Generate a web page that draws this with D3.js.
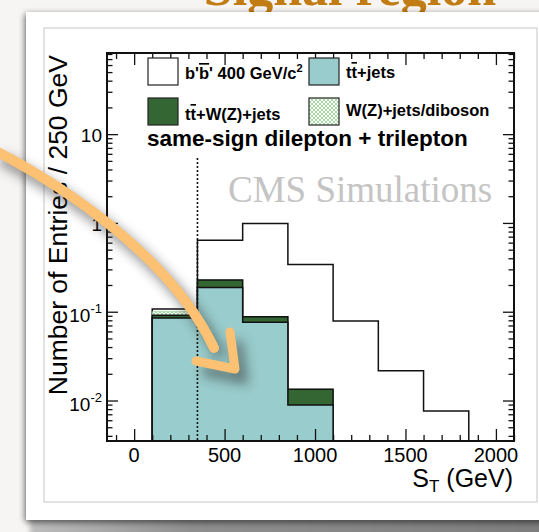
<!DOCTYPE html>
<html>
<head>
<meta charset="utf-8">
<script src="https://cdn.jsdelivr.net/npm/d3@7/dist/d3.min.js"></script>
<style>
  html, body { margin: 0; padding: 0; background: #f7f5f3; }
  svg { display: block; }
  text { font-family: "Liberation Sans", Arial, Helvetica, sans-serif; }
</style>
</head>
<body>
<svg id="chart" width="539" height="532"></svg>
<script>
// S_T distribution, 250 GeV bins, stacked backgrounds with the b'b' signal on top
const binEdges = [100, 350, 600, 850, 1100, 1350, 1600, 1850];
const ttJets   = [0.085, 0.187, 0.076, 0.0089, 0, 0, 0];
const ttVJets  = [0.006, 0.041, 0.012, 0.0045, 0, 0, 0];
const vJetsVV  = [0.009, 0.0005, 0, 0, 0, 0, 0];
const signal   = [0.007, 0.41, 0.90, 0.327, 0.0787, 0.0216, 0.0076];
const xTickLabels = ["0", "500", "1000", "1500", "2000"];
const yTickLabels = [
  { v: 0.01, base: "10", exp: "-2" },
  { v: 0.1,  base: "10", exp: "-1" },
  { v: 1,    base: "1",  exp: null },
  { v: 10,   base: "10", exp: null }
];
const cutValue = 350;

const svg = d3.select("#chart");
const defs = svg.append("defs");

// ---------- slide card ----------
const cardShadow = defs.append("filter").attr("id", "cardShadow")
  .attr("x", "-10%").attr("y", "-10%").attr("width", "120%").attr("height", "120%");
cardShadow.append("feGaussianBlur").attr("in", "SourceAlpha").attr("stdDeviation", 3);
cardShadow.append("feOffset").attr("dx", -1).attr("dy", 2).attr("result", "off");
cardShadow.append("feComponentTransfer").append("feFuncA").attr("type", "linear").attr("slope", 0.6);
const cm = cardShadow.append("feMerge");
cm.append("feMergeNode");
cm.append("feMergeNode").attr("in", "SourceGraphic");

const softBlur = defs.append("filter").attr("id", "softBlur")
  .attr("x", "-10%").attr("y", "-100%").attr("width", "120%").attr("height", "300%");
softBlur.append("feGaussianBlur").attr("stdDeviation", 2.5);

const bottomShade = defs.append("linearGradient").attr("id", "bottomShade")
  .attr("x1", 0).attr("x2", 1).attr("y1", 0).attr("y2", 0);
bottomShade.append("stop").attr("offset", "0%").attr("stop-color", "#bdbdbd");
bottomShade.append("stop").attr("offset", "30%").attr("stop-color", "#8e8e8e");
bottomShade.append("stop").attr("offset", "100%").attr("stop-color", "#7c7c7c");

// title partly above the card
svg.append("text")
  .attr("x", 350).attr("y", 5)
  .attr("text-anchor", "middle")
  .style("font-family", "'Liberation Serif', 'DejaVu Serif', serif")
  .style("font-weight", "bold")
  .style("font-size", "52px")
  .attr("fill", "#c27c14")
  .text("Signal region");

// page-curl shadow under the card
svg.append("rect")
  .attr("x", 30).attr("y", 517).attr("width", 540).attr("height", 22)
  .attr("fill", "url(#bottomShade)")
  .attr("filter", "url(#softBlur)");

svg.append("rect")
  .attr("x", 26).attr("y", 12).attr("width", 540).attr("height", 508)
  .attr("fill", "#ffffff")
  .attr("filter", "url(#cardShadow)");

svg.append("rect")
  .attr("x", 44).attr("y", 28).attr("width", 493).attr("height", 474)
  .attr("fill", "#ffffff")
  .attr("stroke", "#cfcfcf").attr("stroke-width", 1.2);

// ---------- plot frame ----------
const frame = { left: 107, right: 514, top: 53, bottom: 441 };
const x = d3.scaleLinear().domain([-150, 2100]).range([frame.left, frame.right]);
const yMin = 0.0035, yMax = 82;
const y = d3.scaleLog().domain([yMin, yMax]).range([frame.bottom, frame.top]);

defs.append("clipPath").attr("id", "plotClip").append("rect")
  .attr("x", frame.left).attr("y", frame.top)
  .attr("width", frame.right - frame.left).attr("height", frame.bottom - frame.top);

// cross-hatch for W(Z)+jets/diboson
const hatch = defs.append("pattern").attr("id", "hatch")
  .attr("patternUnits", "userSpaceOnUse").attr("width", 4).attr("height", 4);
hatch.append("rect").attr("width", 4).attr("height", 4).attr("fill", "#ffffff");
hatch.append("path").attr("d", "M0,0 L4,4 M4,0 L0,4")
  .attr("stroke", "#8fcf8f").attr("stroke-width", 0.8);

const colors = {
  tt: "#99cccc",
  ttV: "#336633",
  vv: "url(#hatch)",
  sig: "#ffffff"
};

// stacked table
const table = binEdges.slice(0, -1).map((e, i) => ({
  x0: e, x1: binEdges[i + 1],
  tt: ttJets[i], ttV: ttVJets[i], vv: vJetsVV[i], sig: signal[i]
}));
const keys = ["tt", "ttV", "vv", "sig"];
const series = d3.stack().keys(keys)(table);

const clampY = v => y(Math.max(v, yMin));
const stepArea = d3.area()
  .curve(d3.curveStepAfter)
  .x(d => x(d.edge))
  .y0(frame.bottom + 2)
  .y1(d => clampY(d.top));

const plot = svg.append("g").attr("clip-path", "url(#plotClip)");

// draw from the cumulative top layer down so lower layers sit in front
series.slice().reverse().forEach(s => {
  const pts = s.map(d => ({ edge: d.data.x0, top: d[1] }));
  pts.push({ edge: s[s.length - 1].data.x1, top: s[s.length - 1][1] });
  plot.append("path")
    .datum(pts)
    .attr("d", stepArea)
    .attr("fill", colors[s.key])
    .attr("stroke", s.key === "vv" ? "#8fcf8f" : "#111")
    .attr("stroke-width", s.key === "vv" ? 0.8 : 1.5)
    .attr("stroke-linejoin", "miter");
});

// selection cut
plot.append("line")
  .attr("x1", x(cutValue)).attr("x2", x(cutValue))
  .attr("y1", 158).attr("y2", frame.bottom)
  .attr("stroke", "#111").attr("stroke-width", 1.6)
  .attr("stroke-dasharray", "2,2");

// ---------- axes ----------
const xMajor = [0, 500, 1000, 1500, 2000];
const xMinor = d3.range(-100, 2101, 100).filter(v => v % 500 !== 0);
const decades = [-3, -2, -1, 0, 1];
const yAll = [];
decades.forEach(d => { for (let k = 1; k <= 9; k++) { const v = k * Math.pow(10, d); if (v >= yMin && v <= yMax) yAll.push(v); } });
const yMajor = yAll.filter(v => Math.abs(Math.log10(v) - Math.round(Math.log10(v))) < 1e-9);
const yMinor = yAll.filter(v => !yMajor.includes(v));

function tickAxis(axis, transform) {
  const g = svg.append("g").attr("transform", transform).call(axis);
  g.select(".domain").remove();
  g.selectAll("text").remove();
  g.selectAll("line").attr("stroke", "#111").attr("stroke-width", 1.3);
  return g;
}
tickAxis(d3.axisBottom(x).tickValues(xMajor).tickSize(-12), `translate(0,${frame.bottom})`);
tickAxis(d3.axisBottom(x).tickValues(xMinor).tickSize(-6), `translate(0,${frame.bottom})`);
tickAxis(d3.axisTop(x).tickValues(xMajor).tickSize(-12), `translate(0,${frame.top})`);
tickAxis(d3.axisTop(x).tickValues(xMinor).tickSize(-6), `translate(0,${frame.top})`);
tickAxis(d3.axisLeft(y).tickValues(yMajor).tickSize(-11), `translate(${frame.left},0)`);
tickAxis(d3.axisLeft(y).tickValues(yMinor).tickSize(-5.5), `translate(${frame.left},0)`);
tickAxis(d3.axisRight(y).tickValues(yMajor).tickSize(-11), `translate(${frame.right},0)`);
tickAxis(d3.axisRight(y).tickValues(yMinor).tickSize(-5.5), `translate(${frame.right},0)`);

svg.append("rect")
  .attr("x", frame.left).attr("y", frame.top)
  .attr("width", frame.right - frame.left).attr("height", frame.bottom - frame.top)
  .attr("fill", "none").attr("stroke", "#111").attr("stroke-width", 2);

// x tick labels
svg.append("g").selectAll("text").data(xMajor).join("text")
  .attr("x", d => x(d)).attr("y", 462)
  .attr("text-anchor", "middle")
  .style("font-size", "20px")
  .text((d, i) => xTickLabels[i]);

// y tick labels
const yl = svg.append("g").selectAll("text").data(yTickLabels).join("text")
  .attr("x", 102)
  .attr("y", d => y(d.v) + (d.exp ? 10 : 8))
  .attr("text-anchor", "end")
  .style("font-size", "19px");
yl.append("tspan").text(d => d.base);
yl.filter(d => d.exp).append("tspan")
  .attr("dy", -9).style("font-size", "13px").text(d => d.exp);

// axis titles
const xt = svg.append("text")
  .attr("x", 513).attr("y", 487)
  .attr("text-anchor", "end")
  .style("font-size", "25px");
xt.append("tspan").text("S");
xt.append("tspan").attr("dy", 5).style("font-size", "17px").text("T");
xt.append("tspan").attr("dy", -5).text(" (GeV)");

svg.append("text")
  .attr("transform", "translate(67,55) rotate(-90)")
  .attr("text-anchor", "end")
  .style("font-size", "26.5px")
  .text("Number of Entries / 250 GeV");

// ---------- legend ----------
const legend = [
  { label: "sig", fill: "#ffffff", bx: 148, by: 58 },
  { label: "tt",  fill: "#99cccc", bx: 309, by: 58 },
  { label: "ttV", fill: "#336633", bx: 148, by: 98 },
  { label: "vv",  fill: "url(#hatch)", bx: 309, by: 98 }
];
const lg = svg.append("g");
lg.selectAll("rect").data(legend).join("rect")
  .attr("x", d => d.bx).attr("y", d => d.by)
  .attr("width", 30).attr("height", 27)
  .attr("fill", d => d.fill)
  .attr("stroke", "#222").attr("stroke-width", 1.2);

function legendText(xp, yp) {
  return lg.append("text").attr("x", xp).attr("y", yp)
    .style("font-size", "16.5px").style("font-weight", "bold");
}
const t1 = legendText(185, 79);
t1.append("tspan").text("b'");
t1.append("tspan").style("text-decoration", "overline").text("b");
t1.append("tspan").text("' 400 GeV/c");
t1.append("tspan").attr("dy", -7).style("font-size", "11px").text("2");

const t2 = legendText(346, 78);
t2.append("tspan").text("t");
t2.append("tspan").style("text-decoration", "overline").text("t");
t2.append("tspan").text("+jets");

const t3 = legendText(185, 120);
t3.append("tspan").text("t");
t3.append("tspan").style("text-decoration", "overline").text("t");
t3.append("tspan").text("+W(Z)+jets");

legendText(346, 116).text("W(Z)+jets/diboson");

svg.append("text")
  .attr("x", 147).attr("y", 146)
  .style("font-size", "22.5px").style("font-weight", "bold")
  .text("same-sign dilepton + trilepton");

svg.append("text")
  .attr("x", 228).attr("y", 202)
  .style("font-family", "'Liberation Serif', 'Times New Roman', serif")
  .style("font-size", "37px")
  .attr("fill", "#c4c4c4")
  .text("CMS Simulations");

// ---------- annotation arrow ----------
const arrowShadow = defs.append("filter").attr("id", "arrowShadow")
  .attr("x", "-30%").attr("y", "-30%").attr("width", "160%").attr("height", "160%");
arrowShadow.append("feGaussianBlur").attr("stdDeviation", 6);

const shaft = "M-6,150 C60,184 170,255 214,348";
const head = "M230,332 L235,369 L196,361";
const arrowG = svg.append("g");
const sh = arrowG.append("g").attr("transform", "translate(7,9)")
  .attr("filter", "url(#arrowShadow)").attr("opacity", 0.55);
sh.append("path").attr("d", shaft).attr("fill", "none").attr("stroke", "#333").attr("stroke-width", 11);
sh.append("path").attr("d", head).attr("fill", "none").attr("stroke", "#333").attr("stroke-width", 11);

arrowG.append("path").attr("d", shaft)
  .attr("fill", "none").attr("stroke", "#fcc172").attr("stroke-width", 10)
  .attr("stroke-linecap", "round");
arrowG.append("path").attr("d", head)
  .attr("fill", "none").attr("stroke", "#fcc172").attr("stroke-width", 9)
  .attr("stroke-linecap", "round").attr("stroke-linejoin", "round");
</script>
</body>
</html>
